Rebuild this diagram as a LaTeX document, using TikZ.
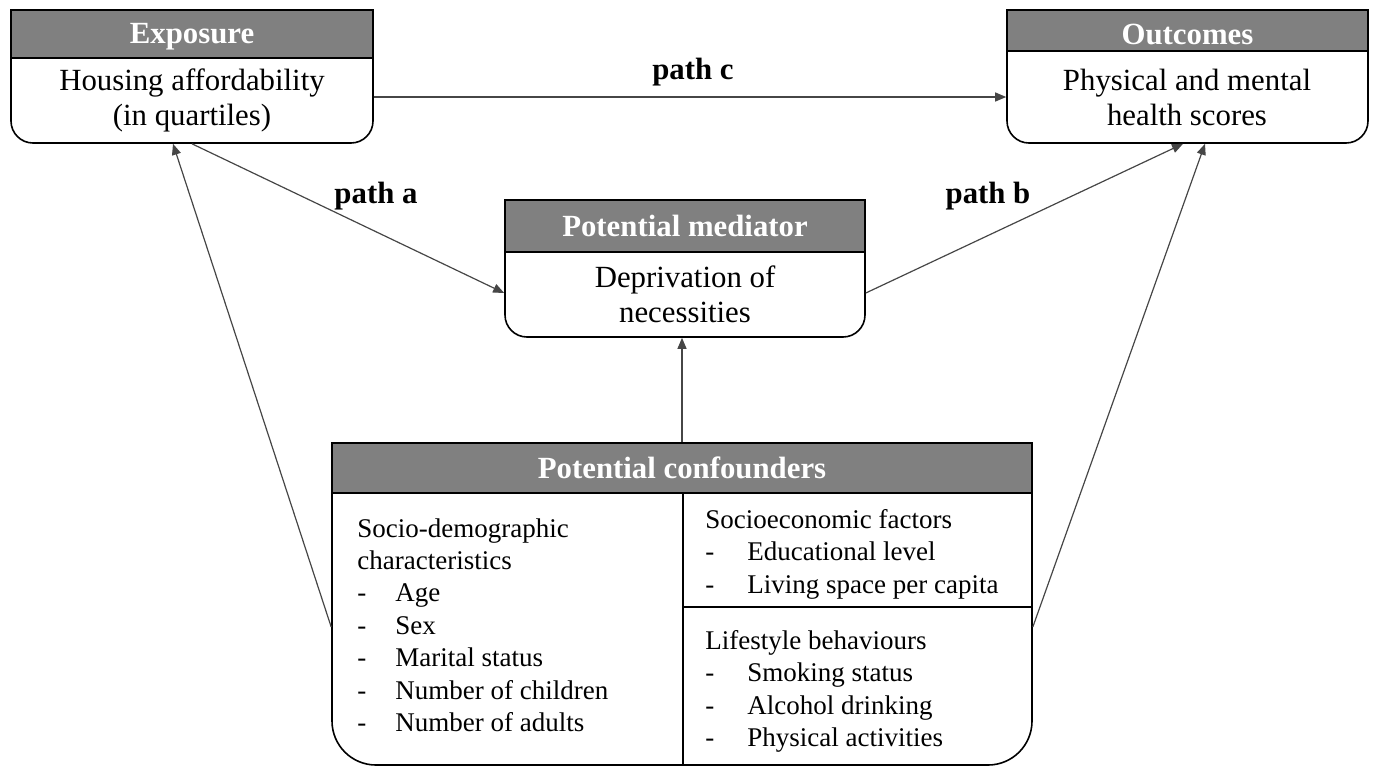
\documentclass[tikz,border=0pt]{standalone}
\usepackage{fontspec}
\setmainfont{Liberation Serif}
\usepackage{xcolor}
\usetikzlibrary{arrows.meta,fit}

\definecolor{headgray}{RGB}{128,128,128}
\definecolor{linegray}{RGB}{70,70,70}
\newcommand{\dashitem}[2][19pt]{\makebox[#1][l]{-}#2}

\tikzset{
  boxbody/.style={draw=black,line width=0.8pt,fill=white,rounded corners=11pt,inner sep=0pt},
  boxhead/.style={draw=black,line width=0.8pt,fill=headgray,inner sep=0pt},
  headtext/.style={text=white,font=\fontsize{15.4}{17.5}\selectfont\bfseries},
  boxtext/.style={align=center,font=\fontsize{15.4}{17.5}\selectfont},
  listtext/.style={align=left,anchor=north west,inner sep=0pt,font=\fontsize{13.5}{16.2}\selectfont},
  pathlabel/.style={font=\fontsize{15.4}{17.5}\selectfont\bfseries},
  divider/.style={draw=black,line width=0.8pt},
  conn/.style={draw=linegray,line width=0.6pt,-{Triangle[length=5.5pt,width=4.5pt]}}
}

\begin{document}
\begin{tikzpicture}[x=0.5pt,y=-0.5pt]
\useasboundingbox (0,0) rectangle (1375,767);

% exposure
\node[boxbody,fit={(11,10) (373,143)}] (expo) {};
\node[boxhead,fit={(11,10) (373,58)}] (expohead) {};
\node[headtext] (expotitle) at ([yshift=-1.5pt]expohead.center) {Exposure};
\node[boxtext] (expotext) at (192,100) {Housing affordability\\(in quartiles)};

% outcomes
\node[boxbody,fit={(1007,10) (1368,143)}] (outc) {};
\node[boxhead,fit={(1007,10) (1368,51)}] (outchead) {};
\node[headtext] (outctitle) at ([yshift=-2pt]outchead.center) {Outcomes};
\node[boxtext] (outctext) at (1187,97) {Physical and mental\\health scores};

% mediator
\node[boxbody,fit={(505,200) (865,337)}] (medi) {};
\node[boxhead,fit={(505,200) (865,252)}] (medihead) {};
\node[headtext] (medititle) at (medihead) {Potential mediator};
\node[boxtext] (meditext) at (685,294) {Deprivation of\\necessities};

% confounders
\node[boxbody,rounded corners=22pt,fit={(332,443) (1032,765)}] (conf) {};
\node[boxhead,fit={(332,443) (1032,493)}] (confhead) {};
\node[headtext] (conftitle) at (confhead) {Potential confounders};
\draw[divider] (683,493) -- (683,765);
\draw[divider] (683,607) -- (1032,607);

\node[listtext] (sociodem) at (357,518) {Socio-demographic\\characteristics\\\dashitem{Age}\\\dashitem{Sex}\\\dashitem{Marital status}\\\dashitem{Number of children}\\\dashitem{Number of adults}};
\node[listtext] (socioeco) at (705,509) {Socioeconomic factors\\\dashitem[21pt]{Educational level}\\\dashitem[21pt]{Living space per capita}};
\node[listtext] (lifestyle) at (705,630) {Lifestyle behaviours\\\dashitem[21pt]{Smoking status}\\\dashitem[21pt]{Alcohol drinking}\\\dashitem[21pt]{Physical activities}};

% paths
\draw[conn] ([yshift=-10.25pt]expo.east) -- ([yshift=-10.25pt]outc.west);
\node[pathlabel] (pathc) at (693,72) {path c};
\draw[conn] (expo.south) -- ([yshift=-12.25pt]medi.west);
\node[pathlabel] (patha) at (376,196) {path a};
\draw[conn] ([yshift=-12.25pt]medi.east) -- ([xshift=-2.25pt]outc.south);
\node[pathlabel] (pathb) at (988,196) {path b};
\draw[conn] (conf.north) -- (conf.north |- medi.south);
\draw[conn] ([yshift=-11.5pt]conf.west) -- ([xshift=-9.5pt]expo.south);
\draw[conn] ([yshift=-11.5pt]conf.east) -- ([xshift=8.75pt]outc.south);
\end{tikzpicture}
\end{document}
